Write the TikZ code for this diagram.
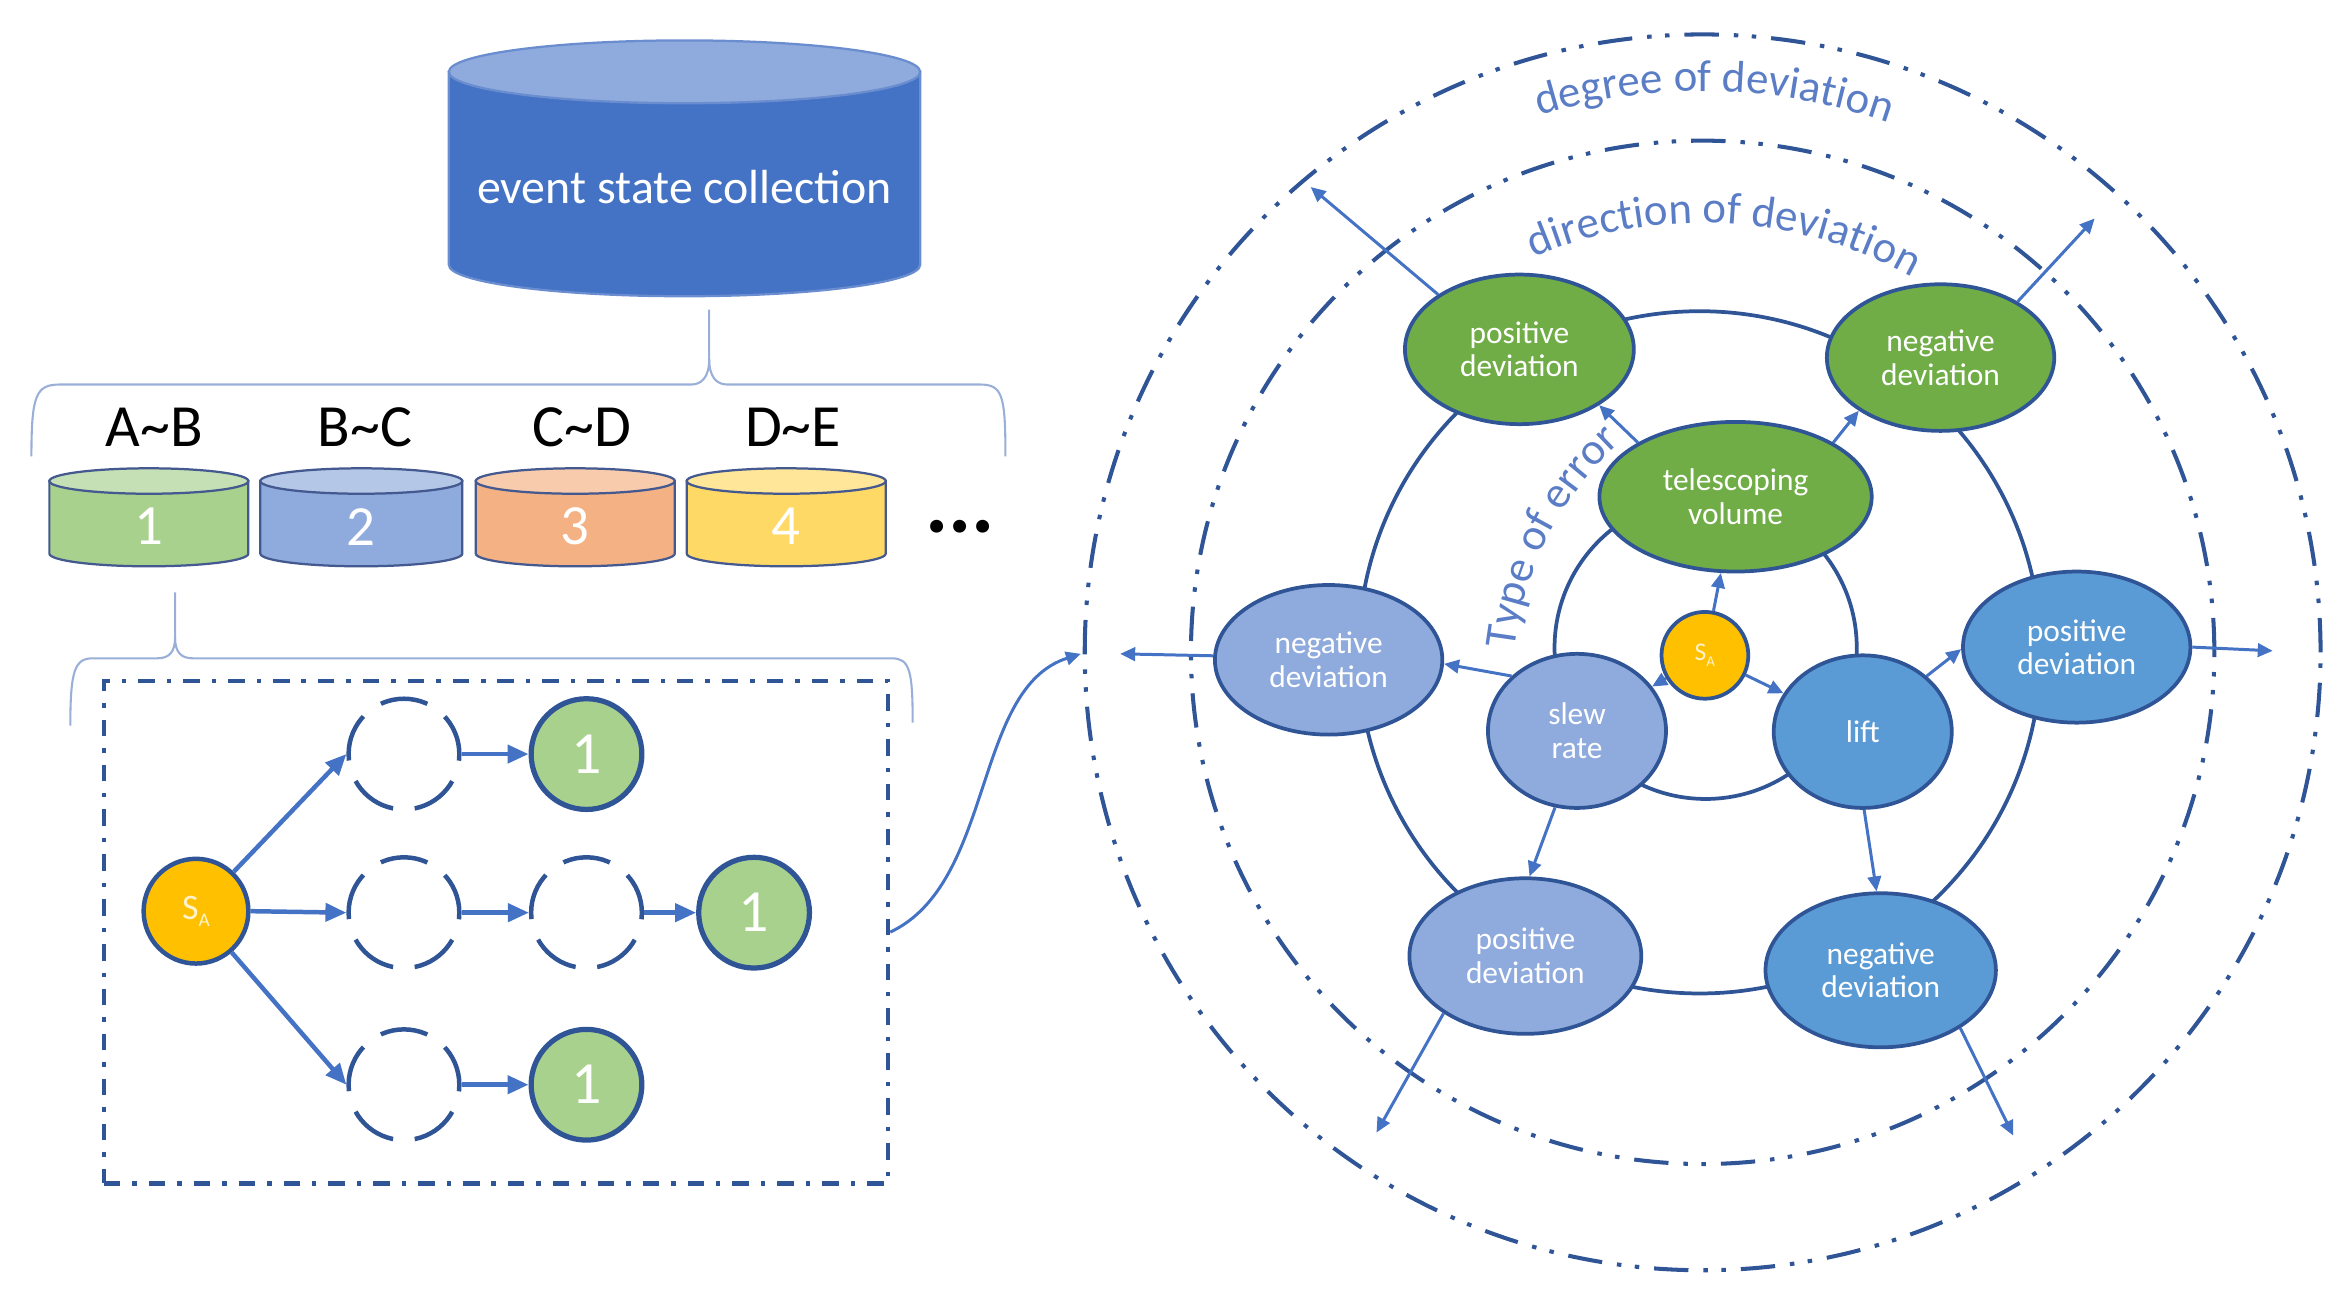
\documentclass[tikz,border=0pt]{standalone}
\usepackage{fontspec}
\setmainfont{Carlito}
\usetikzlibrary{arrows.meta,decorations.text,shapes.geometric,calc}
\definecolor{dblue}{HTML}{2F5597}
\definecolor{ablue}{HTML}{4472C4}
\definecolor{lblue}{HTML}{8FAADC}
\definecolor{mblue}{HTML}{5B9BD5}
\definecolor{ggreen}{HTML}{70AD47}
\definecolor{lgreen}{HTML}{A9D18E}
\definecolor{orng}{HTML}{FFC000}
\definecolor{txtblue}{HTML}{5A7DC6}
\definecolor{bracec}{HTML}{9AAFD8}
\definecolor{cyledge}{HTML}{44598F}
\definecolor{bigbody}{HTML}{4472C4}
\definecolor{bigtop}{HTML}{8FAADC}
\definecolor{bigedge}{HTML}{6A8DD0}
\definecolor{cagreen}{HTML}{A9D18E}
\definecolor{cbgreen}{HTML}{C5E0B4}
\definecolor{cablue}{HTML}{8FAADC}
\definecolor{cbblue}{HTML}{B4C7E7}
\definecolor{caorange}{HTML}{F4B183}
\definecolor{cborange}{HTML}{F8CBAD}
\definecolor{cayellow}{HTML}{FFD966}
\definecolor{cbyellow}{HTML}{FFE699}
\definecolor{satext}{HTML}{FFF2CC}
\newcommand\mycyl[8]{%
  \filldraw[fill=#6,draw=#8,line width=1.5pt] ({#1-#2},{-#3}) -- ({#1-#2},{-#4})
     arc[start angle=180,end angle=360,x radius=#2pt,y radius=#5pt] -- ({#1+#2},{-#3}) -- cycle;
  \filldraw[fill=#7,draw=#8,line width=1.5pt] (#1,{-#3}) ellipse[x radius=#2pt,y radius=#5pt];
}
\newcommand\curvefont{\fontsize{30}{30}\selectfont}
\begin{document}
\begin{tikzpicture}[x=1pt,y=1pt,
  bigtext/.style={text=white,font=\fontsize{32}{32}\selectfont,inner sep=0pt},
  rangelabel/.style={text=black,font=\fontsize{40}{40}\selectfont,inner sep=0pt},
  cyltext/.style={text=white,font=\fontsize{38}{38}\selectfont,inner sep=0pt},
  bracestyle/.style={draw=bracec,line width=1.4pt},
  dashrect/.style={draw=dblue,line width=3pt,dash pattern=on 11pt off 8pt on 3pt off 8pt},
  dcirc/.style={circle,draw=dblue,line width=3pt,minimum size=74pt,inner sep=0pt,
     dash pattern=on 32pt off 14.5pt,dash phase=4.5pt},
  gcirc/.style={circle,draw=dblue,line width=3.5pt,fill=lgreen,minimum size=74pt,inner sep=0pt,
     text=white,font=\fontsize{40}{40}\selectfont},
  sacirc/.style={circle,draw=dblue,line width=3pt,fill=orng,inner sep=0pt,text=satext},
  thickarr/.style={draw=ablue,line width=3pt,-{Triangle[length=14pt,width=12pt]}},
  thinarr/.style={draw=ablue,line width=2pt,-{Triangle[length=10pt,width=9pt]}},
  ddring/.style={draw=dblue,line width=2.7pt,dash pattern=on 23pt off 10pt on 3pt off 9pt on 3pt off 10pt},
  ring/.style={draw=dblue,line width=2.5pt},
  enode/.style={ellipse,draw=dblue,line width=2.5pt,inner sep=0pt,text=white,align=center,
     font=\fontsize{21}{22.5}\selectfont},
  gnode/.style={enode,fill=ggreen},
  lnode/.style={enode,fill=lblue},
  mnode/.style={enode,fill=mblue}
]
\useasboundingbox (0,0) rectangle (1568,-869.6);

% ---------- left: cylinders ----------
\mycyl{457.5}{157.5}{48}{177}{21}{bigbody}{bigtop}{bigedge}
\node[bigtext] (esc) at (457.5,-125) {event state collection};

\draw[bracestyle] (21,-305) .. controls (21,-264) and (24,-257) .. (40,-257) -- (462,-257)
   .. controls (469,-257) and (474,-252) .. (474,-240) -- (474,-207);
\draw[bracestyle] (474,-240) .. controls (474,-252) and (479,-257) .. (486,-257) -- (655,-257)
   .. controls (670,-257) and (672,-264) .. (672,-305);

\node[rangelabel] (lab1) at (103,-285.6) {A\textasciitilde B};
\node[rangelabel] (lab2) at (244,-285.6) {B\textasciitilde C};
\node[rangelabel] (lab3) at (389,-285.6) {C\textasciitilde D};
\node[rangelabel] (lab4) at (530,-285.6) {D\textasciitilde E};

\mycyl{99.5}{66.5}{321.5}{370}{8.5}{cagreen}{cbgreen}{cyledge}
\mycyl{241.5}{67.5}{321.5}{370}{8.5}{cablue}{cbblue}{cyledge}
\mycyl{384.5}{66.5}{321.5}{370}{8.5}{caorange}{cborange}{cyledge}
\mycyl{525.5}{66.5}{321.5}{370}{8.5}{cayellow}{cbyellow}{cyledge}
\node[cyltext] (n1) at (99.5,-352) {1};
\node[cyltext] (n2) at (241.5,-352) {2};
\node[cyltext] (n3) at (384.5,-352) {3};
\node[cyltext] (n4) at (525.5,-352) {4};
\node[inner sep=0pt,font=\fontsize{58}{58}\selectfont\bfseries] (dots) at (641.5,-352) {...};

\draw[bracestyle] (47,-485) .. controls (47,-448) and (50,-440) .. (62,-440) -- (105,-440)
   .. controls (113,-440) and (117,-436) .. (117,-426) -- (117,-396);
\draw[bracestyle] (117,-426) .. controls (117,-436) and (121,-440) .. (129,-440) -- (596,-440)
   .. controls (608,-440) and (610,-448) .. (610,-483);

% ---------- left: path box ----------
\node[dashrect,minimum width=524pt,minimum height=336pt,inner sep=0pt] (box) at (331.5,-623) {};

\node[sacirc,minimum size=70pt,font=\fontsize{24}{24}\selectfont] (sa) at (131,-609)
   {S\raisebox{-5pt}{\fontsize{13}{13}\selectfont A}};
\node[dcirc] (d1) at (270,-504) {};
\node[dcirc] (d2) at (270,-610) {};
\node[dcirc] (d3) at (392,-610) {};
\node[dcirc] (d4) at (270,-725) {};
\node[gcirc] (g1) at (392,-504) {1};
\node[gcirc] (g2) at (504,-610) {1};
\node[gcirc] (g3) at (392,-725) {1};

\draw[thickarr] (sa) -- (d1.west);
\draw[thickarr] (sa.east) -- (d2.west);
\draw[thickarr] (sa) -- (d4.west);
\draw[thickarr] (d1.east) -- (g1.west);
\draw[thickarr] (d2.east) -- (d3.west);
\draw[thickarr] (d3.east) -- (g2.west);
\draw[thickarr] (d4.east) -- (g3.west);

\coordinate (entry) at (722.4,-437);
\draw[thinarr] (box.east) .. controls (665,-590) and (650,-460) .. (entry);

% ---------- right: rings ----------
\coordinate (C) at (1138,-436);
\draw[ddring] (C) circle[radius=413pt];
\draw[ddring] (C) circle[radius=342pt];
\draw[ring] (1136,-436) circle[radius=228pt];
\draw[ring] (1140,-433) circle[radius=101pt];

\path[decorate,decoration={text along path,text align=center,
   text={|\curvefont\color{txtblue}|degree of deviation}}]
   ($(C)+(118.8:375)$) arc[start angle=118.8,end angle=58.8,radius=375pt];
\path[decorate,decoration={text along path,text align=center,
   text={|\curvefont\color{txtblue}|direction of deviation}}]
   ($(C)+(120:287)$) arc[start angle=120,end angle=54,radius=287pt];
\coordinate (T0) at (1233,-459);
\path[decorate,decoration={text along path,text align=center,
   text={|\curvefont\color{txtblue}|Type of error}}]
   ($(T0)+(180:222)$) arc[start angle=180,end angle=126,radius=222pt];

% ---------- right: nodes ----------
\node[gnode,minimum width=153pt,minimum height=100pt] (gp) at (1015.5,-233.5) {positive\\deviation};
\node[gnode,minimum width=152pt,minimum height=98pt] (gn) at (1297,-239) {negative\\deviation};
\node[gnode,minimum width=182pt,minimum height=100pt] (tele) at (1160,-332) {telescoping\\volume};
\node[sacirc,minimum size=58pt,line width=2.5pt,font=\fontsize{17}{17}\selectfont] (sa2) at (1139.5,-438)
   {S\raisebox{-3.5pt}{\fontsize{10}{10}\selectfont A}};
\node[mnode,minimum width=152pt,minimum height=101pt] (rp) at (1388,-432.5) {positive\\deviation};
\node[lnode,minimum width=152pt,minimum height=100pt] (ln) at (888,-441) {negative\\deviation};
\node[lnode,minimum width=119pt,minimum height=103pt] (slew) at (1054,-488.5) {slew\\rate};
\node[mnode,minimum width=119pt,minimum height=102pt] (lift) at (1245,-489) {lift};
\node[lnode,minimum width=155pt,minimum height=104pt] (lp) at (1019.5,-639) {positive\\deviation};
\node[mnode,minimum width=154pt,minimum height=103pt] (lnn) at (1257,-648.5) {negative\\deviation};

% ---------- right: arrows ----------
\draw[thinarr] (sa2) -- (tele);
\draw[thinarr] (sa2) -- (slew);
\draw[thinarr] (sa2) -- (lift);
\draw[thinarr] (tele.151) -- (gp.-35);
\draw[thinarr] (tele.29) -- (gn.213);
\draw[thinarr] (slew.140) -- (ln.-2);
\draw[thinarr] (slew.254) -- (lp.87);
\draw[thinarr] (lift.41) -- (rp.181);
\draw[thinarr] (lift.271) -- (lnn.93);

\coordinate (o1) at (876,-125);
\coordinate (o2) at (1400,-146);
\coordinate (o3) at (748.7,-437);
\coordinate (o4) at (1519,-435);
\coordinate (o5) at (920,-757);
\coordinate (o6) at (1345.6,-759);
\draw[thinarr] (gp.146) -- (o1);
\draw[thinarr] (gn.36) -- (o2);
\draw[thinarr] (ln.178) -- (o3);
\draw[thinarr] (rp.east) -- (o4);
\draw[thinarr] (lp.215) -- (o5);
\draw[thinarr] (lnn.-36) -- (o6);
\end{tikzpicture}
\end{document}
